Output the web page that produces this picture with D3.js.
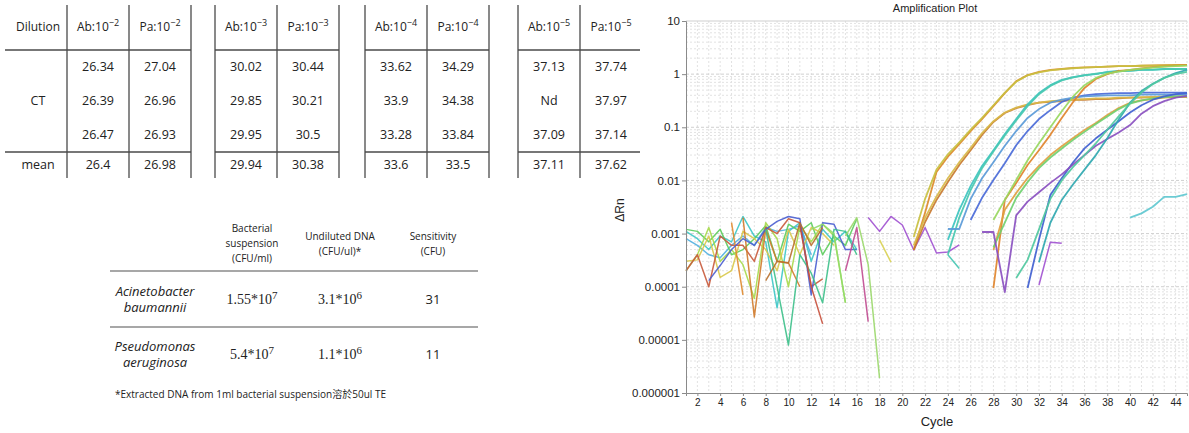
<!DOCTYPE html>
<html>
<head>
<meta charset="utf-8">
<script src="https://cdn.jsdelivr.net/npm/d3@7"></script>
<style>
  body { margin: 0; background: #fff; }
  text { fill: #222; }
</style>
</head>
<body>
<div id="d3id"></div>
<script>
// ---------- table 1: CT values ----------
var dilutionExp = [-2, -3, -4, -5]
var abCT = [[26.34, 26.39, 26.47], [30.02, 29.85, 29.95], [33.62, 33.9, 33.28], [37.13, "Nd", 37.09]]
var paCT = [[27.04, 26.96, 26.93], [30.44, 30.21, 30.5], [34.29, 34.38, 33.84], [37.74, 37.97, 37.14]]
var abMean = [26.4, 29.94, 33.6, 37.11]
var paMean = [26.98, 30.38, 33.5, 37.62]

// ---------- table 2: sensitivity ----------
var species = [["Acinetobacter", "baumannii"], ["Pseudomonas", "aeruginosa"]]
var suspMant = ["1.55", "5.4"], suspExp = [7, 7]
var dnaMant = ["3.1", "1.1"], dnaExp = [6, 6]
var sensitivity = [31, 11]
var footnote = "*Extracted DNA from 1ml bacterial suspension溶於50ul TE"

// ---------- amplification plot ----------
var cycleTicks = d3.range(2, 45, 2)
var rnTicks = [1e-6, 1e-5, 1e-4, 1e-3, 1e-2, 1e-1, 1, 10]
var rnLabels = ["0.000001", "0.00001", "0.0001", "0.001", "0.01", "0.1", "1", "10"]

// baseline noise (cycle 1 onward, null = not plotted)
var noise1 = { from: 1, v: [0.0011, 0.0008, 0.0005, 0.0009, 0.0007, 0.0021, 0.0009, 0.0007, 0.00004, 0.0011, 0.0016, 0.0003, 0.0012, 0.0007, 0.0011, 0.0005] }
var noise2 = { from: 1, v: [0.0008, 0.0006, 0.0004, 0.00035, 0.0006, 0.0009, 0.0006, 0.0013, 0.0011, 0.0012, 0.0014, 0.0004] }
var noise3 = { from: 1, v: [0.0012, 0.0011, 0.0007, 0.0012, 0.0004, 0.0005, 0.0008, 0.0014, 0.0003, 0.0015, 0.0011, 0.0016, 0.0004, 0.0009, 0.0006, 0.0019] }
var noise4 = { from: 1, v: [0.0002, 0.0004, 0.0013, 0.0003, 0.0005, 0.00026, 0.00006, 0.0016, 0.0008, 0.0001, 0.0014, 0.0007, 0.0015, 0.0009, 0.00005] }
var noise5 = { from: 1, v: [0.0003, 0.00032, 0.0009, 0.00015, 0.0002, 0.0011, 0.0008, 0.0005, 0.0002, 0.0012, 0.0004, 0.0013, 0.001, 0.0006] }
var noise6 = { from: 1, v: [0.0002, 0.0004, 0.0001, 0.0009, 0.0006, 0.0006, 0.0003, 0.0013, 0.001, 0.0019, 0.0016, 0.0001, 0.00014] }
var noise7 = { from: 5, v: [0.0016, 0.00007] }
var noise8 = { from: 6, v: [0.002, 0.000027, 0.0012, 0.0003, 0.00028, 0.0001] }
var noise9 = { from: 3, v: [0.00013, 0.00025, 0.0005, 0.0008, 0.0006, 0.0012, 0.0017, 0.0021, 0.0019, 0.00007, 0.0016, 0.0015, 0.0005, 0.0005] }
var noise10 = { from: 8, v: [0.0012, 0.0001, 0.000008, 0.0004, 0.00018, 0.00005, 0.0012, 0.0011, 0.0004] }
var noise11 = { from: 12, v: [0.0012, 0.0015, 0.001, 0.00005] }
var noise12 = { from: 15, v: [0.0009, 0.002, 0.00026, 0.0000019] }
var noise13 = { from: 15, v: [0.0002, 0.0013, 0.000022] }
var noise14 = { from: 11, v: [0.0014, 0.0001, 0.00002] }
var noise15 = { from: 8, v: [0.00013, 0.0003, 0.00028, 0.0016, 0.0006, 0.0013] }
var frag1 = { from: 17, v: [0.002, 0.0011, 0.0021, 0.00145, 0.00049, 0.0013, 0.00043, 0.00045, 0.00061] }
var frag2 = { from: 18, v: [0.00076, 0.00029] }
var frag3 = { from: 24, v: [0.0004, 0.00022] }
var frag4 = { from: 32, v: [0.000108, 0.00069, 0.00066] }

// amplification curves
var ampA = { from: 21, v: [0.00049, 0.0025, 0.0144, 0.028, 0.048, 0.085, 0.143, 0.25, 0.44, 0.74, 0.96, 1.1, 1.2, 1.25, 1.31, 1.34, 1.36, 1.39, 1.41, 1.42, 1.44, 1.46, 1.48, 1.49, 1.5] }
var ampA2 = { from: 21, v: [0.00086, 0.0045, 0.016, 0.031, 0.052, 0.09, 0.15, 0.26, 0.45, 0.72, 0.95, 1.08, 1.18, 1.24, 1.29, 1.33, 1.36, 1.39, 1.41, 1.42, 1.44, 1.45, 1.46, 1.47, 1.48] }
var ampB = { from: 21, v: [0.00049, 0.00165, 0.0043, 0.0093, 0.0195, 0.037, 0.072, 0.126, 0.186, 0.23, 0.26, 0.29, 0.3, 0.31, 0.33, 0.33, 0.34, 0.34, 0.35, 0.36, 0.36, 0.37, 0.37, 0.37, 0.37] }
var ampB2 = { from: 21, v: [0.0006, 0.002, 0.005, 0.011, 0.022, 0.041, 0.078, 0.13, 0.19, 0.235, 0.27, 0.29, 0.31, 0.32, 0.33, 0.34, 0.35, 0.35, 0.36, 0.36, 0.37, 0.37, 0.38, 0.38, 0.38] }
var ampC = { from: 24, v: [0.00076, 0.0028, 0.0079, 0.0187, 0.037, 0.075, 0.143, 0.27, 0.44, 0.62, 0.78, 0.88, 0.96, 1.0, 1.1, 1.15, 1.15, 1.2, 1.2, 1.25, 1.25, 1.26] }
var ampC2 = { from: 24, v: [0.0004, 0.002, 0.0066, 0.017, 0.035, 0.07, 0.135, 0.25, 0.42, 0.6, 0.76, 0.87, 0.95, 1.02, 1.08, 1.13, 1.17, 1.2, 1.22, 1.24, 1.25, 1.26] }
var ampD = { from: 26, v: [0.0018, 0.0047, 0.0102, 0.021, 0.046, 0.085, 0.143, 0.21, 0.3, 0.36, 0.4, 0.42, 0.43, 0.44, 0.44, 0.45, 0.45, 0.45, 0.45, 0.45] }
var ampE = { from: 24, v: [0.00122, 0.00122, 0.0045, 0.011, 0.022, 0.045, 0.085, 0.15, 0.22, 0.29, 0.33, 0.36, 0.38, 0.39, 0.4, 0.4, 0.4, 0.41, 0.41, 0.41, 0.41, 0.41] }
var ampF = { from: 28, v: [0.0000945, 0.0043, 0.0089, 0.0195, 0.037, 0.072, 0.15, 0.3, 0.55, 0.81, 1.0, 1.15, 1.2, 1.28, 1.36, 1.4, 1.45, 1.48] }
var ampG = { from: 28, v: [0.0018, 0.0043, 0.0102, 0.024, 0.05, 0.1, 0.2, 0.38, 0.62, 0.85, 1.02, 1.12, 1.2, 1.27, 1.33, 1.38, 1.42, 1.45] }
var ampH = { from: 28, v: [0.00049, 0.0028, 0.0058, 0.0111, 0.0187, 0.03, 0.044, 0.063, 0.089, 0.12, 0.17, 0.23, 0.29, 0.32, 0.34, 0.36, 0.37, 0.37] }
var ampI = { from: 28, v: [0.00055, 0.0016, 0.0047, 0.0093, 0.017, 0.027, 0.04, 0.058, 0.082, 0.115, 0.16, 0.22, 0.28, 0.32, 0.35, 0.37, 0.38, 0.38] }
var ampK = { from: 31, v: [0.0000945, 0.00076, 0.0053, 0.011, 0.022, 0.04, 0.062, 0.09, 0.13, 0.19, 0.26, 0.33, 0.38, 0.42, 0.44] }
var ampL = { from: 27, v: [0.00107, 0.00107, 0.000079, 0.0022, 0.004, 0.006, 0.009, 0.013, 0.02, 0.03, 0.045, 0.06, 0.08, 0.11, 0.18, 0.25, 0.31, 0.36, 0.39] }
var ampM = { from: 32, v: [0.00029, 0.0016, 0.0043, 0.0085, 0.016, 0.03, 0.062, 0.14, 0.29, 0.48, 0.66, 0.85, 1.05, 1.2] }
var ampQ = { from: 30, v: [0.000146, 0.00032, 0.0012, 0.0045, 0.01, 0.018, 0.03, 0.05, 0.09, 0.16, 0.28, 0.45, 0.65, 0.85, 1.0, 1.1] }
var ampN = { from: 40, v: [0.002, 0.0024, 0.0032, 0.0049, 0.0049, 0.0055] }

var noiseSeries = [noise1, noise2, noise3, noise4, noise5, noise6, noise7, noise8, noise9, noise10, noise11, noise12, noise13, noise14, noise15, frag1, frag2, frag3, frag4]
var noiseColors = ["#3cc6c6", "#50b0e0", "#5ccc5c", "#a6d94a", "#d8c84a", "#c85a3c", "#e08a2e", "#d07a2a", "#4a5ed0", "#3cc08a", "#8edc6a", "#9ad86a", "#c04a90", "#c8503c", "#b8702c", "#a050d0", "#d8d050", "#40c4b0", "#a050d0"]
var ampSeries = [ampA, ampA2, ampB, ampB2, ampC, ampC2, ampD, ampE, ampF, ampG, ampH, ampI, ampK, ampL, ampM, ampQ, ampN]
var ampColors = ["#dc8a2a", "#c8c040", "#c87a30", "#d8b848", "#3cc4c0", "#48c8b0", "#4a6ad8", "#5a9ad8", "#e0842c", "#98d860", "#e0a040", "#70d070", "#4060d0", "#8a50c0", "#30a8b0", "#50c8a0", "#60c8d0"]

var svg = d3.select("#d3id")
  .append("svg")
  .attr("width", 1189)
  .attr("height", 433)
  .style("font-family", "'Open Sans', sans-serif")

// ================= table 1 =================
var t1 = svg.append("g")
var blockLeft = [67, 215, 365, 518], colW = 62
var rowY = [67, 101, 135], headY = 27, meanY = 165
var lineCol = "#4a4a4a"

function supText(g, x, y, base, sup, size) {
  var t = g.append("text").attr("x", x).attr("y", y).attr("text-anchor", "middle")
    .style("font-size", size + "px")
  t.append("tspan").text(base)
  t.append("tspan").attr("dy", -5).style("font-size", (size - 3) + "px").text(sup)
  return t
}

// vertical lines
blockLeft.forEach(function (bx, i) {
  var xs = [bx, bx + colW, bx + 2 * colW]
  if (i === 3) xs = [bx, bx + colW]
  xs.forEach(function (x) {
    t1.append("line").attr("x1", x).attr("x2", x).attr("y1", 5).attr("y2", 178)
      .attr("stroke", lineCol).attr("stroke-width", 1.3)
  })
  var x0 = i === 0 ? 5 : bx
  var x1 = i === 3 ? bx + 2 * colW - 2 : bx + 2 * colW
  ;[50, 152].forEach(function (y) {
    t1.append("line").attr("x1", x0).attr("x2", x1).attr("y1", y).attr("y2", y)
      .attr("stroke", lineCol).attr("stroke-width", 1.3)
  })
  var c1 = bx + colW / 2, c2 = bx + colW * 1.5
  supText(t1, c1, headY + 4, "Ab:10", "\u2212" + (-dilutionExp[i]), 12)
  supText(t1, c2, headY + 4, "Pa:10", "\u2212" + (-dilutionExp[i]), 12)
  rowY.forEach(function (y, r) {
    t1.append("text").attr("x", c1).attr("y", y + 4).attr("text-anchor", "middle")
      .style("font-size", "12.5px").text(abCT[i][r])
    t1.append("text").attr("x", c2).attr("y", y + 4).attr("text-anchor", "middle")
      .style("font-size", "12.5px").text(paCT[i][r])
  })
  t1.append("text").attr("x", c1).attr("y", meanY + 4).attr("text-anchor", "middle")
    .style("font-size", "12.5px").text(abMean[i])
  t1.append("text").attr("x", c2).attr("y", meanY + 4).attr("text-anchor", "middle")
    .style("font-size", "12.5px").text(paMean[i])
})
t1.append("text").attr("x", 38).attr("y", headY + 4).attr("text-anchor", "middle").style("font-size", "12px").text("Dilution")
t1.append("text").attr("x", 38).attr("y", rowY[1] + 4).attr("text-anchor", "middle").style("font-size", "12.5px").text("CT")
t1.append("text").attr("x", 38).attr("y", meanY + 4).attr("text-anchor", "middle").style("font-size", "12.5px").text("mean")

// ================= table 2 =================
var t2 = svg.append("g")
var colX = [155, 252, 340, 433]
var heads = [["Bacterial", "suspension", "(CFU/ml)"], ["Undiluted DNA", "(CFU/ul)*"], ["Sensitivity", "(CFU)"]]
var headTops = [229, 237, 237]
heads.forEach(function (h, i) {
  h.forEach(function (s, k) {
    t2.append("text").attr("x", colX[i + 1]).attr("y", headTops[i] + 3 + k * 15)
      .attr("text-anchor", "middle").style("font-size", "10px").text(s)
  })
})
;[271, 327].forEach(function (y) {
  t2.append("line").attr("x1", 110).attr("x2", 478).attr("y1", y).attr("y2", y)
    .attr("stroke", "#8a8a8a").attr("stroke-width", 1.5)
})
var rowMid = [300, 355]
species.forEach(function (sp, r) {
  sp.forEach(function (s, k) {
    t2.append("text").attr("x", colX[0]).attr("y", rowMid[r] - 8 + 4 + k * 16)
      .attr("text-anchor", "middle").style("font-size", "13px").style("font-style", "italic").text(s)
  })
  var g1 = supText(t2, colX[1], rowMid[r] + 4, suspMant[r] + "*10", suspExp[r], 14)
  g1.style("font-family", "'Liberation Serif', serif")
  var g2 = supText(t2, colX[2], rowMid[r] + 4, dnaMant[r] + "*10", dnaExp[r], 14)
  g2.style("font-family", "'Liberation Serif', serif")
  t2.append("text").attr("x", colX[3]).attr("y", rowMid[r] + 4).attr("text-anchor", "middle")
    .style("font-size", "13px").text(sensitivity[r])
})
t2.append("text").attr("x", 115).attr("y", 398).style("font-size", "10px")
  .style("font-family", "'Open Sans', 'Noto Sans CJK TC', sans-serif").text(footnote)

// ================= amplification plot =================
var x = d3.scaleLinear().domain([1, 45]).range([686, 1187])
var y = d3.scaleLog().domain([1e-6, 10]).range([393, 21])
var plot = svg.append("g").style("font-family", "'Liberation Sans', Arial, sans-serif")

// grid
var minorY = []
for (var e = -6; e < 1; e++) {
  for (var m = 2; m <= 9; m++) minorY.push(m * Math.pow(10, e))
}
plot.selectAll(".gy").data(minorY).enter().append("line")
  .attr("x1", x(1)).attr("x2", x(45))
  .attr("y1", function (d) { return y(d) }).attr("y2", function (d) { return y(d) })
  .attr("stroke", "#e2e2e2").attr("stroke-dasharray", "2,2")
plot.selectAll(".gx").data(d3.range(2, 46)).enter().append("line")
  .attr("x1", function (d) { return x(d) }).attr("x2", function (d) { return x(d) })
  .attr("y1", y(10)).attr("y2", y(1e-6))
  .attr("stroke", "#e2e2e2").attr("stroke-dasharray", "2,2")
plot.selectAll(".gm").data(rnTicks.slice(1, 7)).enter().append("line")
  .attr("x1", x(1)).attr("x2", x(45))
  .attr("y1", function (d) { return y(d) }).attr("y2", function (d) { return y(d) })
  .attr("stroke", "#d0d0d0").attr("stroke-dasharray", "3,2")
plot.append("line").attr("x1", x(1)).attr("x2", x(45)).attr("y1", y(10)).attr("y2", y(10))
  .attr("stroke", "#cfcfcf")

var line = d3.line()
  .defined(function (d) { return d[1] != null })
  .x(function (d) { return x(d[0]) })
  .y(function (d) { return y(d[1]) })

function pts(s) { return s.v.map(function (v, i) { return [s.from + i, v] }) }

plot.selectAll(".noise").data(noiseSeries).enter().append("path")
  .attr("d", function (d) { return line(pts(d)) })
  .attr("fill", "none")
  .attr("stroke", function (d, i) { return noiseColors[i] })
  .attr("stroke-width", 1.5).attr("stroke-linejoin", "round").attr("opacity", 0.9)

plot.selectAll(".amp").data(ampSeries).enter().append("path")
  .attr("d", function (d) { return line(pts(d)) })
  .attr("fill", "none")
  .attr("stroke", function (d, i) { return ampColors[i] })
  .attr("stroke-width", 1.8).attr("stroke-linejoin", "round").attr("opacity", 0.92)

// axes
var yAxis = plot.append("g").attr("transform", "translate(" + x(1) + ",0)")
  .call(d3.axisLeft(y).tickValues(rnTicks).tickSize(4).tickFormat(function (d, i) { return rnLabels[i] }))
yAxis.select(".domain").attr("stroke", "#8a8a8a")
yAxis.selectAll(".tick line").attr("stroke", "#8a8a8a")
yAxis.selectAll("text").style("font-size", "11.5px").attr("fill", "#333").attr("x", -6)

var xAxis = plot.append("g").attr("transform", "translate(0," + y(1e-6) + ")")
  .call(d3.axisBottom(x).tickValues(cycleTicks).tickSize(3).tickFormat(d3.format("d")))
xAxis.select(".domain").attr("stroke", "#8a8a8a")
xAxis.selectAll(".tick line").attr("stroke", "#8a8a8a")
xAxis.selectAll("text").style("font-size", "10px").attr("fill", "#555")

plot.append("text").attr("x", 935).attr("y", 12).attr("text-anchor", "middle")
  .style("font-size", "11px").text("Amplification Plot")
plot.append("text").attr("x", 937).attr("y", 426).attr("text-anchor", "middle")
  .style("font-size", "13px").attr("fill", "#444").text("Cycle")
plot.append("text").attr("transform", "translate(624,210) rotate(-90)").attr("text-anchor", "middle")
  .style("font-size", "12px").attr("fill", "#444").text("\u0394Rn")
</script>
</body>
</html>
